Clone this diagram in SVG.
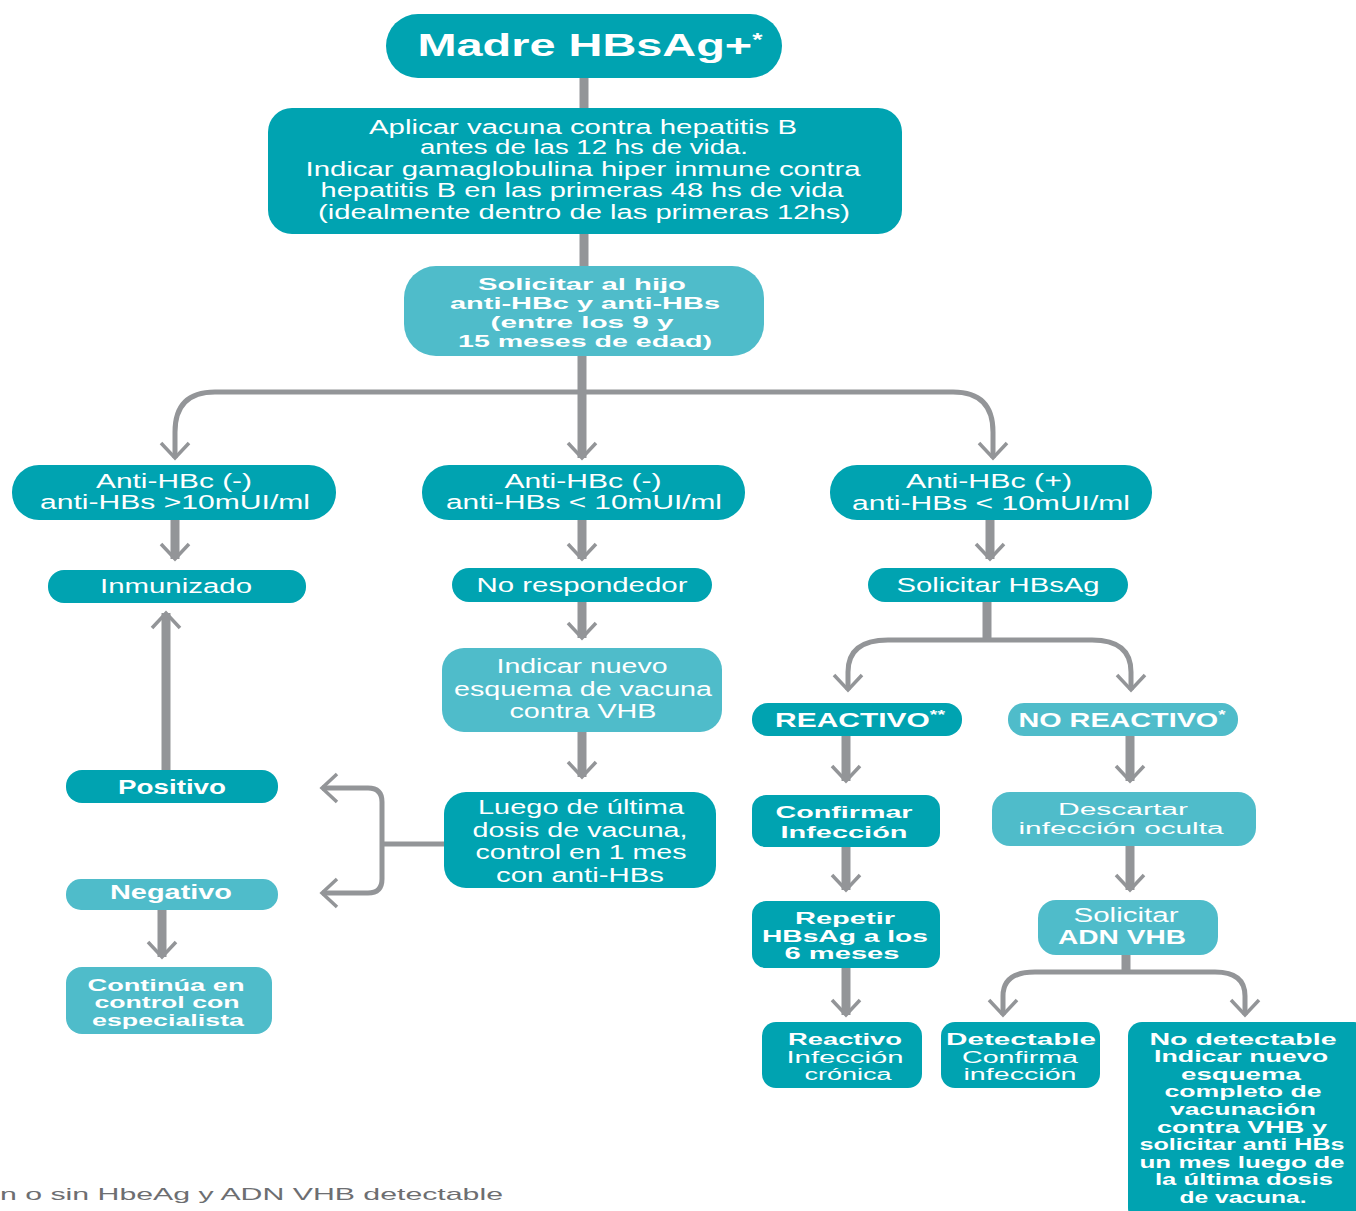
<svg xmlns="http://www.w3.org/2000/svg" width="1356" height="1211" viewBox="0 0 1356 1211">
  <style>
    .dk { fill: #00A3B1; }
    .lt { fill: #4FBCCA; }
    .t { fill: #ffffff; font-family: "Liberation Sans", Arial, sans-serif; font-size: 20px; text-anchor: middle; }
    .s { font-size: 16px; }
    .b { font-weight: bold; }
    .c { fill: none; stroke: #939598; stroke-linecap: butt; }
    .w9 { stroke-width: 9; }
    .w5 { stroke-width: 5; }
    .note { fill: #6d6e71; font-family: "Liberation Sans", Arial, sans-serif; font-size: 17px; }
  </style>
  <defs>
    <marker id="chev" markerUnits="userSpaceOnUse" markerWidth="40" markerHeight="40" viewBox="-20 -20 40 40" refX="0" refY="0" orient="auto" overflow="visible">
      <path d="M-15,-14 L0,0 L-15,14" fill="none" stroke="#939598" stroke-width="3.5" stroke-linejoin="miter"/>
    </marker>
  </defs>

  <rect width="1356" height="1211" fill="#ffffff"/>

  <!-- connectors -->
  <g id="connectors">
    <path class="c w9" d="M584,76 V110"/>
    <path class="c w9" d="M584,232 V268"/>
    <path class="c w9" d="M582,354 V458" marker-end="url(#chev)"/>
    <path class="c w5" d="M582,392 H215 Q175,392 175,432 V458" marker-end="url(#chev)"/>
    <path class="c w5" d="M582,392 H953 Q993,392 993,432 V458" marker-end="url(#chev)"/>

    <path class="c w9" d="M175,520 V559" marker-end="url(#chev)"/>
    <path class="c w9" d="M582,520 V559" marker-end="url(#chev)"/>
    <path class="c w9" d="M990,520 V559" marker-end="url(#chev)"/>

    <path class="c w9" d="M582,602 V638" marker-end="url(#chev)"/>
    <path class="c w9" d="M582,732 V777" marker-end="url(#chev)"/>

    <path class="c w9" d="M166,772 V613" marker-end="url(#chev)"/>
    <path class="c w9" d="M162,910 V957" marker-end="url(#chev)"/>

    <path class="c w5" d="M446,844 H382"/>
    <path class="c w5" d="M382,844 V802 Q382,788 368,788 H322" marker-end="url(#chev)"/>
    <path class="c w5" d="M382,844 V879 Q382,893 368,893 H322" marker-end="url(#chev)"/>

    <path class="c w9" d="M987,602 V641"/>
    <path class="c w5" d="M987,640 H888 Q848,640 848,672 V690" marker-end="url(#chev)"/>
    <path class="c w5" d="M987,640 H1092 Q1131,640 1131,672 V690" marker-end="url(#chev)"/>

    <path class="c w9" d="M846,736 V781" marker-end="url(#chev)"/>
    <path class="c w9" d="M846,847 V890" marker-end="url(#chev)"/>
    <path class="c w9" d="M846,968 V1015" marker-end="url(#chev)"/>
    <path class="c w9" d="M1130,736 V781" marker-end="url(#chev)"/>
    <path class="c w9" d="M1130,846 V890" marker-end="url(#chev)"/>

    <path class="c w9" d="M1126,953 V974"/>
    <path class="c w5" d="M1126,972 H1035 Q1003,972 1003,996 V1015" marker-end="url(#chev)"/>
    <path class="c w5" d="M1126,972 H1215 Q1245,972 1245,996 V1015" marker-end="url(#chev)"/>
  </g>

  <!-- nodes -->
  <g id="madre">
    <rect class="dk" x="386" y="14" width="396" height="64" rx="32"/>
    <text class="t b" x="590" y="56" style="font-size:32px" textLength="345" lengthAdjust="spacingAndGlyphs">Madre HBsAg+<tspan dy="-10" style="font-size:18px">*</tspan></text>
  </g>

  <g id="profilaxis">
    <rect class="dk" x="268" y="108" width="634" height="126" rx="24"/>
    <text class="t" x="583" y="134" textLength="428" lengthAdjust="spacingAndGlyphs">Aplicar vacuna contra hepatitis B</text>
    <text class="t" x="584" y="154" textLength="328" lengthAdjust="spacingAndGlyphs">antes de las 12 hs de vida.</text>
    <text class="t" x="583" y="176" textLength="555" lengthAdjust="spacingAndGlyphs">Indicar gamaglobulina hiper inmune contra</text>
    <text class="t" x="582" y="197" textLength="523" lengthAdjust="spacingAndGlyphs">hepatitis B en las primeras 48 hs de vida</text>
    <text class="t" x="584" y="219" textLength="532" lengthAdjust="spacingAndGlyphs">(idealmente dentro de las primeras 12hs)</text>
  </g>

  <g id="solicitar-hijo">
    <rect class="lt" x="404" y="266" width="360" height="90" rx="32"/>
    <text class="t b s" x="582" y="290" textLength="208" lengthAdjust="spacingAndGlyphs">Solicitar al hijo</text>
    <text class="t b s" x="585" y="309" textLength="270" lengthAdjust="spacingAndGlyphs">anti-HBc y anti-HBs</text>
    <text class="t b s" x="582" y="328" textLength="183" lengthAdjust="spacingAndGlyphs">(entre los 9 y</text>
    <text class="t b s" x="585" y="347" textLength="254" lengthAdjust="spacingAndGlyphs">15 meses de edad)</text>
  </g>

  <g id="anti-neg-alto">
    <rect class="dk" x="12" y="465" width="324" height="55" rx="27"/>
    <text class="t" x="174" y="488" textLength="156" lengthAdjust="spacingAndGlyphs">Anti-HBc (-)</text>
    <text class="t" x="175" y="509" textLength="270" lengthAdjust="spacingAndGlyphs">anti-HBs &gt;10mUI/ml</text>
  </g>

  <g id="anti-neg-bajo">
    <rect class="dk" x="422" y="465" width="323" height="55" rx="27"/>
    <text class="t" x="583" y="488" textLength="157" lengthAdjust="spacingAndGlyphs">Anti-HBc (-)</text>
    <text class="t" x="584" y="509" textLength="276" lengthAdjust="spacingAndGlyphs">anti-HBs &lt; 10mUI/ml</text>
  </g>

  <g id="anti-pos-bajo">
    <rect class="dk" x="830" y="465" width="322" height="55" rx="27"/>
    <text class="t" x="989" y="488" textLength="166" lengthAdjust="spacingAndGlyphs">Anti-HBc (+)</text>
    <text class="t" x="991" y="510" textLength="278" lengthAdjust="spacingAndGlyphs">anti-HBs &lt; 10mUI/ml</text>
  </g>

  <g id="inmunizado">
    <rect class="dk" x="48" y="570" width="258" height="33" rx="16"/>
    <text class="t" x="176" y="593" textLength="152" lengthAdjust="spacingAndGlyphs">Inmunizado</text>
  </g>

  <g id="no-respondedor">
    <rect class="dk" x="452" y="568" width="260" height="34" rx="17"/>
    <text class="t" x="582" y="592" textLength="211" lengthAdjust="spacingAndGlyphs">No respondedor</text>
  </g>

  <g id="solicitar-hbsag">
    <rect class="dk" x="868" y="568" width="260" height="34" rx="17"/>
    <text class="t" x="998" y="592" textLength="203" lengthAdjust="spacingAndGlyphs">Solicitar HBsAg</text>
  </g>

  <g id="nuevo-esquema">
    <rect class="lt" x="442" y="648" width="280" height="84" rx="22"/>
    <text class="t" x="582" y="673" textLength="171" lengthAdjust="spacingAndGlyphs">Indicar nuevo</text>
    <text class="t" x="583" y="696" textLength="258" lengthAdjust="spacingAndGlyphs">esquema de vacuna</text>
    <text class="t" x="583" y="718" textLength="147" lengthAdjust="spacingAndGlyphs">contra VHB</text>
  </g>

  <g id="control-mes">
    <rect class="dk" x="444" y="792" width="272" height="96" rx="22"/>
    <text class="t" x="581" y="814" textLength="206" lengthAdjust="spacingAndGlyphs">Luego de última</text>
    <text class="t" x="580" y="837" textLength="215" lengthAdjust="spacingAndGlyphs">dosis de vacuna,</text>
    <text class="t" x="581" y="859" textLength="211" lengthAdjust="spacingAndGlyphs">control en 1 mes</text>
    <text class="t" x="580" y="882" textLength="168" lengthAdjust="spacingAndGlyphs">con anti-HBs</text>
  </g>

  <g id="positivo">
    <rect class="dk" x="66" y="770" width="212" height="33" rx="16"/>
    <text class="t b" x="172" y="794" textLength="108" lengthAdjust="spacingAndGlyphs">Positivo</text>
  </g>

  <g id="negativo">
    <rect class="lt" x="66" y="879" width="212" height="31" rx="15"/>
    <text class="t b" x="171" y="899" textLength="122" lengthAdjust="spacingAndGlyphs">Negativo</text>
  </g>

  <g id="continua-control">
    <rect class="lt" x="66" y="967" width="206" height="67" rx="16"/>
    <text class="t b s" x="166" y="991" textLength="157" lengthAdjust="spacingAndGlyphs">Continúa en</text>
    <text class="t b s" x="167" y="1008" textLength="145" lengthAdjust="spacingAndGlyphs">control con</text>
    <text class="t b s" x="168" y="1026" textLength="152" lengthAdjust="spacingAndGlyphs">especialista</text>
  </g>

  <g id="reactivo">
    <rect class="dk" x="752" y="703" width="210" height="33" rx="16"/>
    <text class="t b" x="860" y="727" textLength="170" lengthAdjust="spacingAndGlyphs">REACTIVO<tspan dy="-8" style="font-size:13px">**</tspan></text>
  </g>

  <g id="no-reactivo">
    <rect class="lt" x="1008" y="703" width="230" height="33" rx="16"/>
    <text class="t b" x="1122" y="727" textLength="207" lengthAdjust="spacingAndGlyphs">NO REACTIVO<tspan dy="-8" style="font-size:13px">*</tspan></text>
  </g>

  <g id="confirmar">
    <rect class="dk" x="752" y="795" width="188" height="52" rx="14"/>
    <text class="t b" x="844" y="818" style="font-size:17px" textLength="137" lengthAdjust="spacingAndGlyphs">Confirmar</text>
    <text class="t b" x="844" y="838" style="font-size:17px" textLength="127" lengthAdjust="spacingAndGlyphs">Infección</text>
  </g>

  <g id="descartar">
    <rect class="lt" x="992" y="792" width="264" height="54" rx="18"/>
    <text class="t s" x="1123" y="815" textLength="130" lengthAdjust="spacingAndGlyphs">Descartar</text>
    <text class="t s" x="1121" y="834" textLength="205" lengthAdjust="spacingAndGlyphs">infección oculta</text>
  </g>

  <g id="repetir">
    <rect class="dk" x="752" y="901" width="188" height="67" rx="14"/>
    <text class="t b s" x="845" y="924" textLength="100" lengthAdjust="spacingAndGlyphs">Repetir</text>
    <text class="t b s" x="845" y="942" textLength="166" lengthAdjust="spacingAndGlyphs">HBsAg a los</text>
    <text class="t b s" x="842" y="959" textLength="115" lengthAdjust="spacingAndGlyphs">6 meses</text>
  </g>

  <g id="solicitar-adn">
    <rect class="lt" x="1038" y="900" width="180" height="55" rx="18"/>
    <text class="t" x="1126" y="922" textLength="105" lengthAdjust="spacingAndGlyphs">Solicitar</text>
    <text class="t b" x="1122" y="944" textLength="128" lengthAdjust="spacingAndGlyphs">ADN VHB</text>
  </g>

  <g id="cronica">
    <rect class="dk" x="762" y="1022" width="160" height="66" rx="14"/>
    <text class="t b s" x="845" y="1045" textLength="114" lengthAdjust="spacingAndGlyphs">Reactivo</text>
    <text class="t s" x="845" y="1063" textLength="117" lengthAdjust="spacingAndGlyphs">Infección</text>
    <text class="t s" x="848" y="1080" textLength="87" lengthAdjust="spacingAndGlyphs">crónica</text>
  </g>

  <g id="detectable">
    <rect class="dk" x="941" y="1022" width="159" height="66" rx="14"/>
    <text class="t b s" x="1021" y="1045" textLength="150" lengthAdjust="spacingAndGlyphs">Detectable</text>
    <text class="t s" x="1020" y="1063" textLength="116" lengthAdjust="spacingAndGlyphs">Confirma</text>
    <text class="t s" x="1020" y="1080" textLength="113" lengthAdjust="spacingAndGlyphs">infección</text>
  </g>

  <g id="no-detectable">
    <rect class="dk" x="1128" y="1022" width="240" height="200" rx="14"/>
    <text class="t b s" x="1243" y="1045" textLength="187" lengthAdjust="spacingAndGlyphs">No detectable</text>
    <text class="t b s" x="1241" y="1062" textLength="174" lengthAdjust="spacingAndGlyphs">Indicar nuevo</text>
    <text class="t b s" x="1241" y="1080" textLength="120" lengthAdjust="spacingAndGlyphs">esquema</text>
    <text class="t b s" x="1243" y="1097" textLength="157" lengthAdjust="spacingAndGlyphs">completo de</text>
    <text class="t b s" x="1243" y="1115" textLength="146" lengthAdjust="spacingAndGlyphs">vacunación</text>
    <text class="t b s" x="1242" y="1133" textLength="170" lengthAdjust="spacingAndGlyphs">contra VHB y</text>
    <text class="t b s" x="1242" y="1150" textLength="205" lengthAdjust="spacingAndGlyphs">solicitar anti HBs</text>
    <text class="t b s" x="1242" y="1168" textLength="205" lengthAdjust="spacingAndGlyphs">un mes luego de</text>
    <text class="t b s" x="1244" y="1185" textLength="178" lengthAdjust="spacingAndGlyphs">la última dosis</text>
    <text class="t b s" x="1243" y="1203" textLength="127" lengthAdjust="spacingAndGlyphs">de vacuna.</text>
  </g>

  <text class="note" x="0" y="1200" textLength="503" lengthAdjust="spacingAndGlyphs">n o sin HbeAg y ADN VHB detectable</text>
</svg>
